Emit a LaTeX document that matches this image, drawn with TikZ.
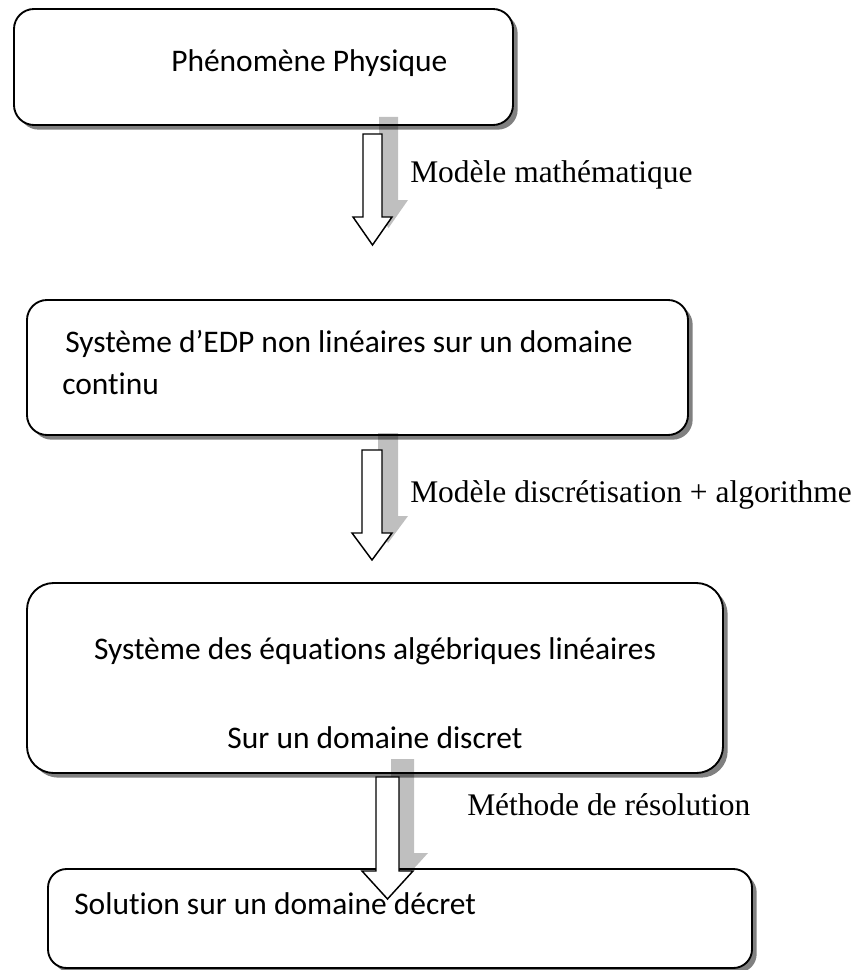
\documentclass[tikz,border=0pt]{standalone}
\usepackage{fontspec}
\setmainfont{Carlito}[Ligatures=NoCommon]
\newfontfamily\timesf{Liberation Serif}
\usetikzlibrary{shadows}
\tikzset{
 boxsty/.style={draw=black, line width=1.4pt, fill=white, rounded corners=#1, inner sep=0pt,
   drop shadow={shadow xshift=3.5pt, shadow yshift=-3.5pt, fill=black!50, opacity=1}},
 boxtext/.style={font=\fontsize{23.6pt}{28pt}\selectfont, inner sep=0pt},
 lbl/.style={font=\timesf\fontsize{23.6pt}{28pt}\selectfont, inner sep=0pt, anchor=west},
 ashadow/.style={fill=black, fill opacity=0.25},
 aline/.style={draw=black, line width=1.1pt, fill=white, line join=miter},
}
% cx, ytop, yhead, ytip, half shaft, half head, shadow dx, shadow dy
\newcommand\mkarrow[8]{%
 \fill[ashadow, shift={(#7,#8)}] (#1-#5,#2) -- (#1+#5,#2) -- (#1+#5,#3) -- (#1+#6,#3) -- (#1,#4) -- (#1-#6,#3) -- (#1-#5,#3) -- cycle;
 \draw[aline] (#1-#5,#2) -- (#1+#5,#2) -- (#1+#5,#3) -- (#1+#6,#3) -- (#1,#4) -- (#1-#6,#3) -- (#1-#5,#3) -- cycle;
}
\begin{document}
\begin{tikzpicture}[x=0.75pt,y=-0.75pt]
\useasboundingbox (0,0) rectangle (859,970);
% boxes
\node[boxsty=15pt, minimum width=374.25pt, minimum height=87pt] (b1) at (263.5,67) {};
\node[boxsty=15pt, minimum width=495.75pt, minimum height=101.25pt] (b2) at (357.5,367.5) {};
\node[boxsty=20pt, minimum width=522pt, minimum height=142.5pt] (b3) at (375,678) {};
\node[boxsty=14pt, minimum width=528pt, minimum height=74.25pt] (b4) at (400,918.5) {};
% block arrows
\mkarrow{372.5}{134}{217}{245}{9.5}{19.5}{16}{-17}
\mkarrow{372}{450}{533}{560}{10}{20}{16}{-17}
\mkarrow{387.5}{777}{871}{899}{11.5}{25.5}{15}{-18}
% box texts
\node[boxtext, anchor=west] (t1) at (171,63) {Phénomène Physique};
\node[boxtext, anchor=west] (t2a) at (65,344) {Système d’EDP non linéaires sur un domaine};
\node[boxtext, anchor=west] (t2b) at (62,384) {continu};
\node[boxtext] (t3a) at (375,651) {Système des équations algébriques linéaires};
\node[boxtext] (t3b) at (375,738) {Sur un domaine discret};
\node[boxtext, anchor=west] (t4) at (74,904) {Solution sur un domaine décret};
% labels
\node[lbl] (l1) at (410,175) {Modèle mathématique};
\node[lbl] (l2) at (410,495) {Modèle discrétisation + algorithme};
\node[lbl] (l3) at (467,805) {Méthode de résolution};
\end{tikzpicture}
\end{document}
